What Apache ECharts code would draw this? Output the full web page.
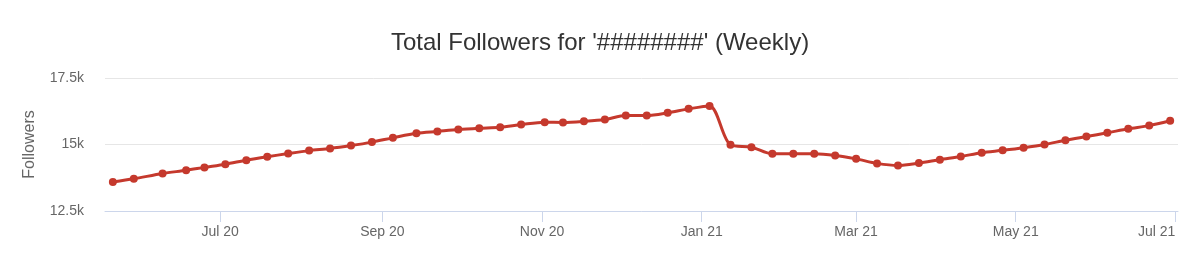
<!DOCTYPE html>
<html>
<head>
<meta charset="utf-8">
<script src="https://cdn.jsdelivr.net/npm/echarts@6/dist/echarts.min.js"></script>
<style>
html,body{margin:0;padding:0;background:#fff;}
#chart{width:1200px;height:278px;}
</style>
</head>
<body>
<div id="chart"></div>
<script>
var titleText = "Total Followers for '########' (Weekly)";
var yAxisName = "Followers";

var dates = [
  '2020-05-21','2020-05-29','2020-06-09','2020-06-18','2020-06-25','2020-07-03',
  '2020-07-11','2020-07-19','2020-07-27','2020-08-04','2020-08-12','2020-08-20',
  '2020-08-28','2020-09-05','2020-09-14','2020-09-22','2020-09-30','2020-10-08',
  '2020-10-16','2020-10-24','2020-11-02','2020-11-09','2020-11-17','2020-11-25',
  '2020-12-03','2020-12-11','2020-12-19','2020-12-27','2021-01-04','2021-01-12',
  '2021-01-20','2021-01-28','2021-02-05','2021-02-13','2021-02-21','2021-03-01',
  '2021-03-09','2021-03-17','2021-03-25','2021-04-02','2021-04-10','2021-04-18',
  '2021-04-26','2021-05-04','2021-05-12','2021-05-20','2021-05-28','2021-06-05',
  '2021-06-13','2021-06-21','2021-06-29'
];

var followers = [
  13590, 13710, 13910, 14030, 14140, 14260,
  14410, 14540, 14660, 14770, 14850, 14960,
  15090, 15250, 15420, 15490, 15560, 15610,
  15650, 15750, 15840, 15830, 15870, 15940,
  16090, 16090, 16190, 16340, 16450, 14990,
  14900, 14650, 14650, 14650, 14590, 14460,
  14290, 14210, 14300, 14430, 14550, 14690,
  14780, 14880, 15000, 15160, 15300, 15440,
  15590, 15710, 15890
];

// month starts where the x-axis shows labels
var xTickDates = ['2020-07-01','2020-09-01','2020-11-01','2021-01-01','2021-03-01','2021-05-01','2021-07-01'];
var monthNames = ['Jan','Feb','Mar','Apr','May','Jun','Jul','Aug','Sep','Oct','Nov','Dec'];

function toTime(s){
  var p = s.split('-');
  return Date.UTC(+p[0], +p[1] - 1, +p[2]);
}
var xTickValues = xTickDates.map(toTime);
var seriesData = dates.map(function(d, i){ return [toTime(d), followers[i]]; });

var chart = echarts.init(document.getElementById('chart'), null, {renderer:'canvas'});
chart.setOption({
  animation: false,
  backgroundColor: '#ffffff',
  title: {
    text: titleText,
    left: 'center',
    top: 31,
    padding: 0,
    textStyle: {
      fontFamily: 'Liberation Sans, Arial, sans-serif',
      fontSize: 24,
      fontWeight: 'normal',
      color: '#333333'
    }
  },
  grid: { left: 105, right: 22, top: 78, bottom: 67, containLabel: false },
  xAxis: {
    type: 'value',
    min: toTime('2020-05-18'),
    max: toTime('2021-07-02'),
    axisLine: { show: true, lineStyle: { color: '#ccd6eb', width: 1 } },
    axisTick: { show: true, length: 11, lineStyle: { color: '#ccd6eb' }, customValues: xTickValues },
    splitLine: { show: false },
    axisLabel: {
      customValues: xTickValues,
      margin: 14,
      alignMaxLabel: 'right',
      color: '#666666',
      fontSize: 14,
      fontFamily: 'Liberation Sans, Arial, sans-serif',
      formatter: function(v){
        var d = new Date(v);
        return monthNames[d.getUTCMonth()] + ' ' + String(d.getUTCFullYear()).slice(2);
      }
    }
  },
  yAxis: {
    type: 'value',
    min: 12500,
    max: 17500,
    interval: 2500,
    name: yAxisName,
    nameLocation: 'middle',
    nameGap: 67,
    nameRotate: 90,
    nameTextStyle: {
      color: '#666666',
      fontSize: 16,
      fontFamily: 'Liberation Sans, Arial, sans-serif'
    },
    axisLine: { show: false },
    axisTick: { show: false },
    splitLine: { show: true, lineStyle: { color: '#e6e6e6', width: 1 } },
    axisLabel: {
      margin: 21,
      color: '#666666',
      fontSize: 14,
      fontFamily: 'Liberation Sans, Arial, sans-serif',
      formatter: function(v){ return (v / 1000) + 'k'; }
    }
  },
  series: [{
    type: 'line',
    data: seriesData,
    smooth: 0.3,
    symbol: 'circle',
    symbolSize: 8,
    lineStyle: { color: '#c5392d', width: 3 },
    itemStyle: { color: '#c5392d' }
  }]
});
</script>
</body>
</html>
